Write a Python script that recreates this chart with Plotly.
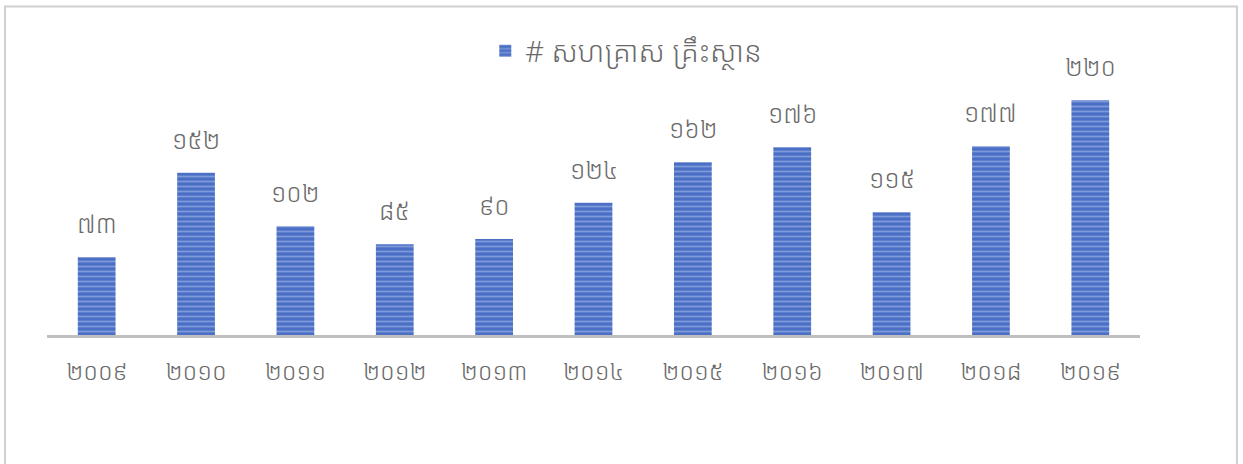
import plotly.graph_objects as go

years = ["២០០៩", "២០១០", "២០១១", "២០១២", "២០១៣", "២០១៤", "២០១៥", "២០១៦", "២០១៧", "២០១៨", "២០១៩"]
values = [73, 152, 102, 85, 90, 124, 162, 176, 115, 177, 220]
value_labels = ["៧៣", "១៥២", "១០២", "៨៥", "៩០", "១២៤", "១៦២", "១៧៦", "១១៥", "១៧៧", "២២០"]
series_name = "# សហគ្រាស គ្រឹះស្ថាន"

FONT = "Noto Sans Khmer, Khmer OS, DejaVu Sans, sans-serif"
GRAY = "#6a6a6a"

fig = go.Figure()
fig.add_trace(go.Bar(
    x=years, y=values, name=series_name,
    marker=dict(color="#4a6fc4", line=dict(width=0),
                pattern=dict(shape="-", fgcolor="#b3c6f0", size=5, solidity=0.35)),
    showlegend=True,
))

for x, y, t in zip(years, values, value_labels):
    fig.add_annotation(x=x, y=y, text=t, showarrow=False, yshift=34,
                       font=dict(size=25, color=GRAY, family=FONT, weight=300))

fig.add_shape(type="rect", xref="paper", yref="paper",
              x0=-0.0384, x1=1.0887, y0=-0.55, y1=1.283,
              line=dict(color="#d0d0d0", width=2), fillcolor="rgba(0,0,0,0)", layer="below")

fig.update_layout(
    width=1243, height=464,
    margin=dict(l=47, r=103, t=79, b=129),
    paper_bgcolor="white", plot_bgcolor="white",
    bargap=0.62,
    font=dict(family=FONT, color=GRAY),
    legend=dict(orientation="h", x=0.53, xanchor="center", y=1.11, yanchor="middle",
                font=dict(size=29, color=GRAY, family=FONT, weight=300)),
    xaxis=dict(showline=True, linecolor="#bfbfbf", linewidth=3, ticks="",
               ticklabelstandoff=13,
               tickfont=dict(size=24, color=GRAY, family=FONT, weight=300), showgrid=False),
    yaxis=dict(range=[0, 240], visible=False, showgrid=False),
)

fig.write_html("out.html", config={"displayModeBar": False},
               post_script="document.body.style.margin='0';document.body.style.padding='0';")
